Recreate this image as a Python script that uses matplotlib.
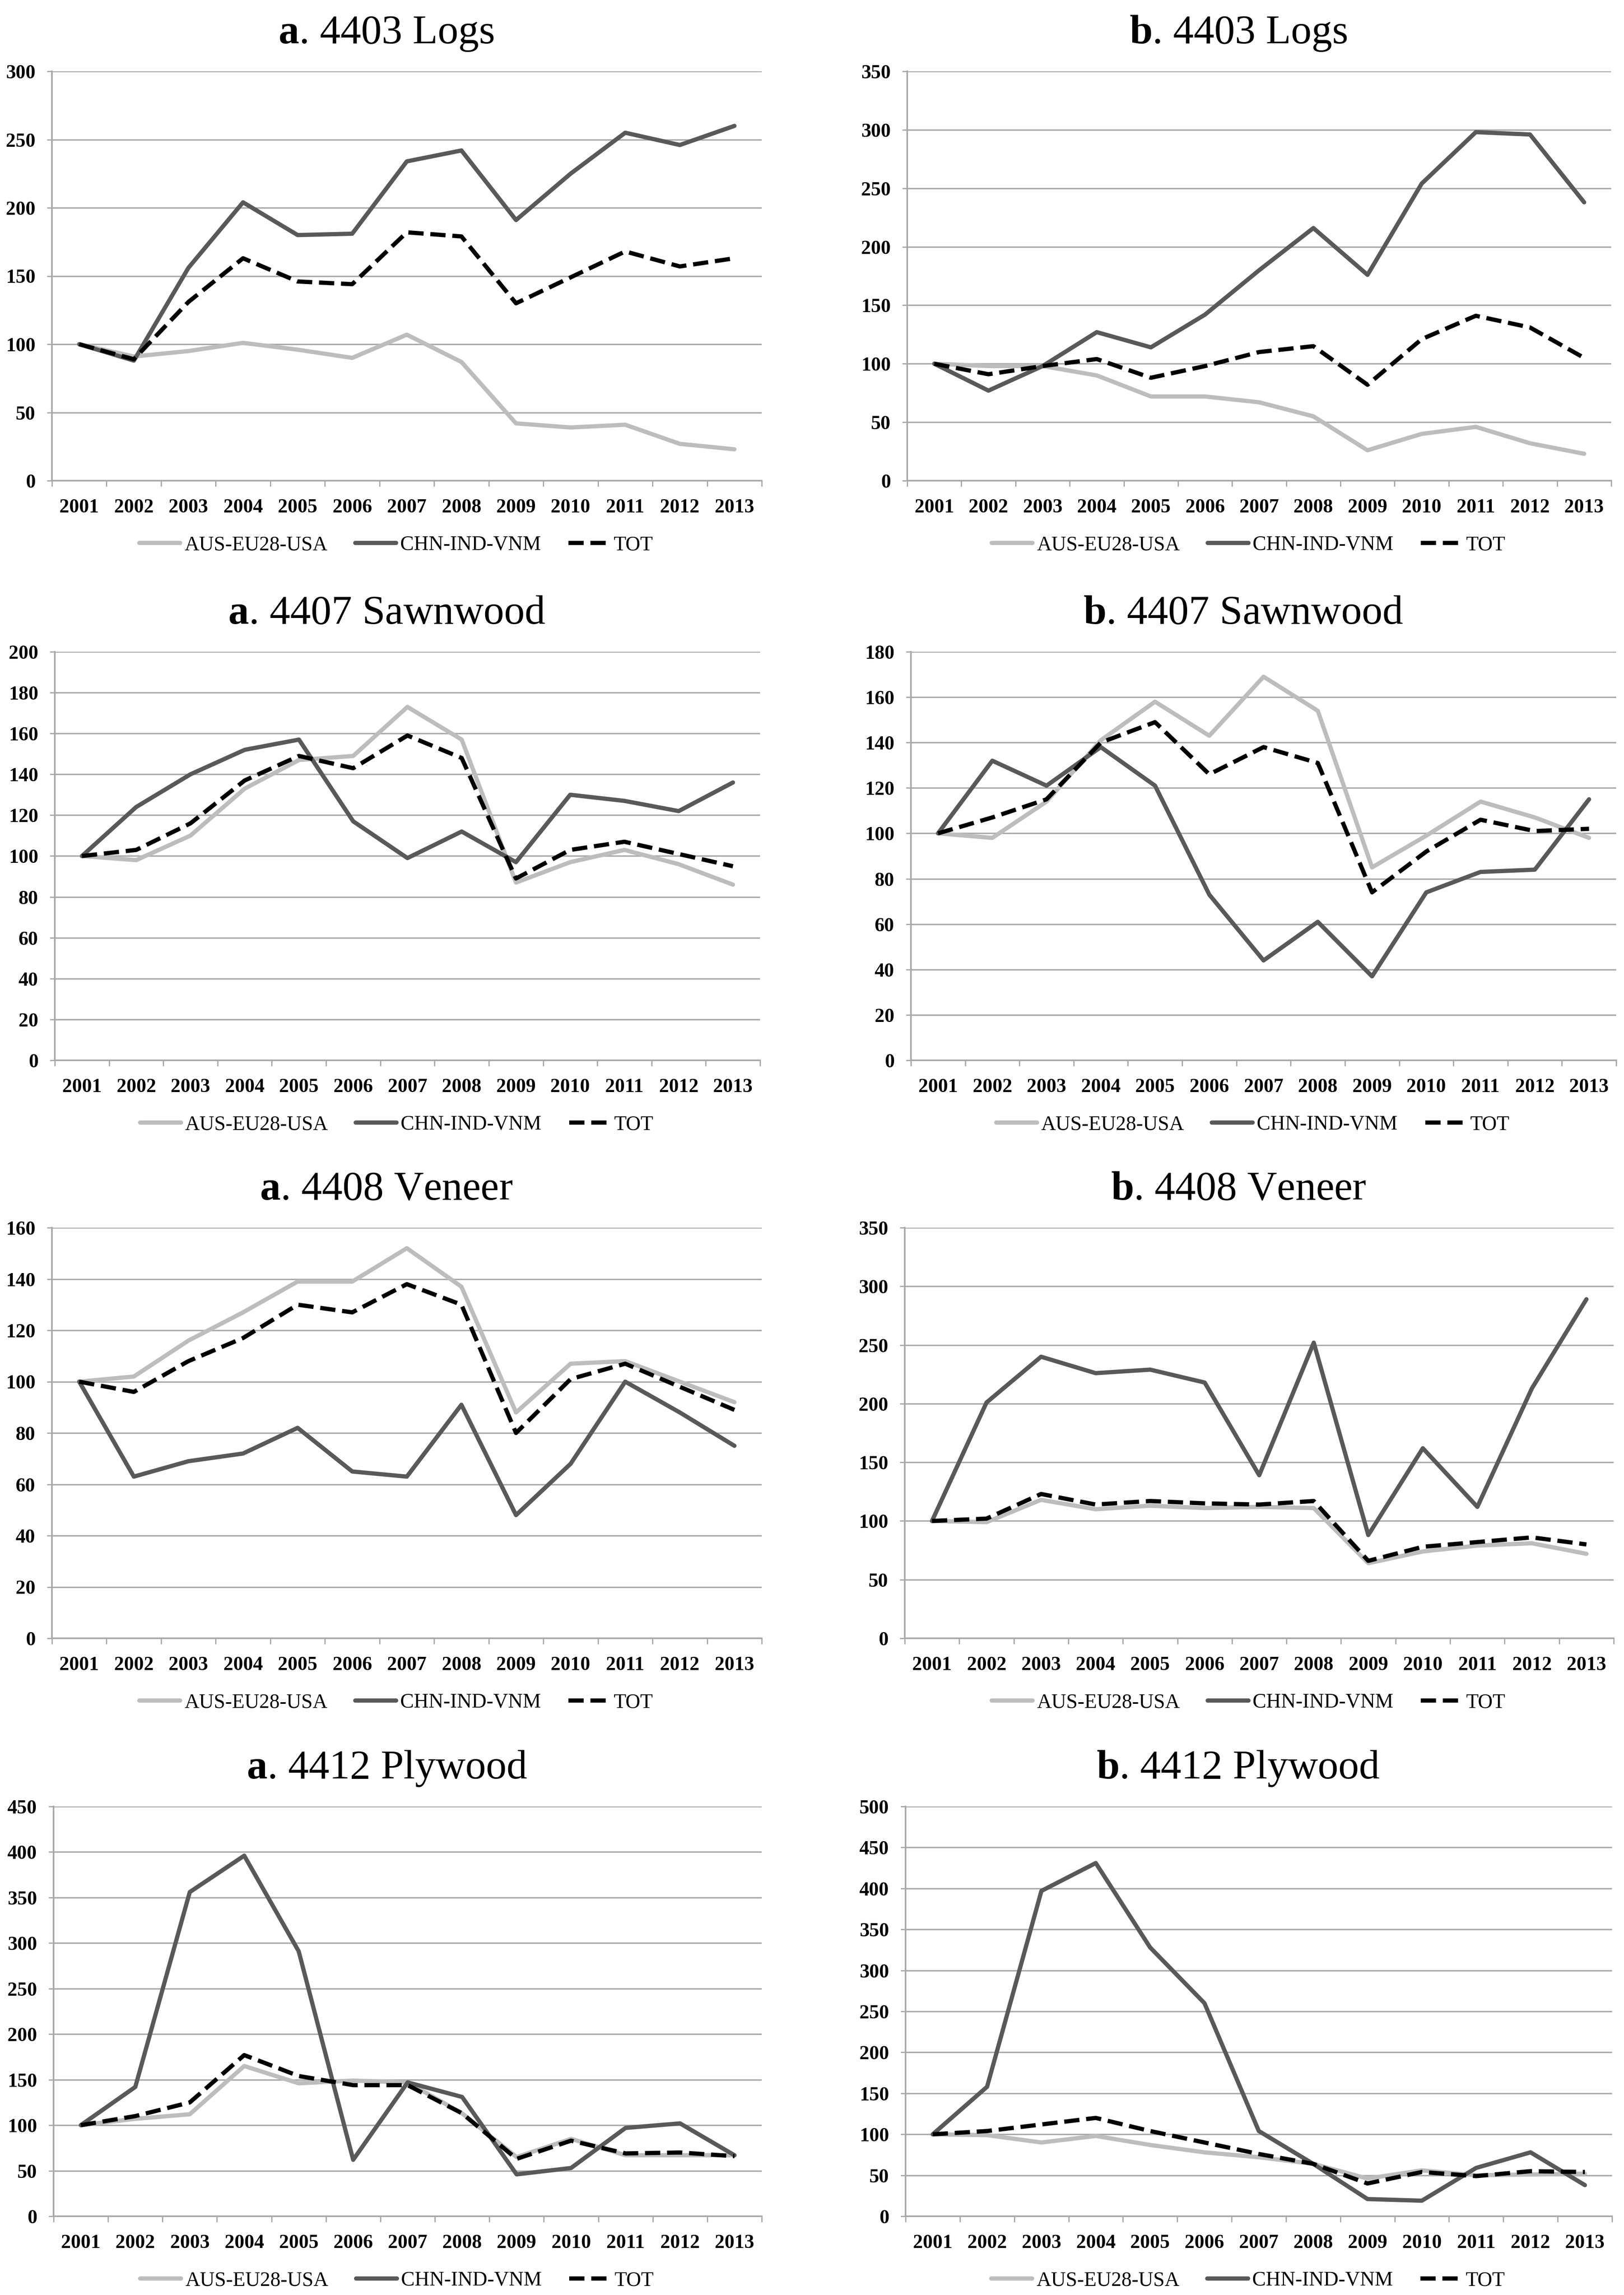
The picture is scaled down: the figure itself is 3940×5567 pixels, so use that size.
import matplotlib.pyplot as plt
import numpy as np

plt.rcParams['font.family'] = ['Liberation Serif', 'DejaVu Serif']
plt.rcParams['mathtext.fontset'] = 'custom'
plt.rcParams['mathtext.rm'] = 'Liberation Serif'
plt.rcParams['mathtext.bf'] = 'Liberation Serif:bold'

years = [str(y) for y in range(2001, 2014)]
series_names = ['AUS-EU28-USA', 'CHN-IND-VNM', 'TOT']

# 4403 Logs
logs_a_aus = [100, 91, 95, 101, 96, 90, 107, 87, 42, 39, 41, 27, 23]
logs_a_chn = [100, 88, 156, 204, 180, 181, 234, 242, 191, 225, 255, 246, 260]
logs_a_tot = [100, 89, 131, 163, 146, 144, 182, 179, 130, 149, 168, 157, 163]
logs_b_aus = [100, 98, 98, 90, 72, 72, 67, 55, 26, 40, 46, 32, 23]
logs_b_chn = [100, 77, 98, 127, 114, 142, 180, 216, 176, 254, 298, 296, 238]
logs_b_tot = [100, 91, 98, 104, 88, 98, 110, 115, 82, 121, 141, 131, 105]

# 4407 Sawnwood
sawn_a_aus = [100, 98, 110, 133, 147, 149, 173, 157, 87, 97, 103, 96, 86]
sawn_a_chn = [100, 124, 140, 152, 157, 117, 99, 112, 97, 130, 127, 122, 136]
sawn_a_tot = [100, 103, 116, 137, 149, 143, 159, 148, 89, 103, 107, 101, 95]
sawn_b_aus = [100, 98, 114, 141, 158, 143, 169, 154, 85, 99, 114, 107, 98]
sawn_b_chn = [100, 132, 121, 138, 121, 73, 44, 61, 37, 74, 83, 84, 115]
sawn_b_tot = [100, 107, 115, 140, 149, 126, 138, 131, 74, 92, 106, 101, 102]

# 4408 Veneer
ven_a_aus = [100, 102, 116, 127, 139, 139, 152, 137, 88, 107, 108, 100, 92]
ven_a_chn = [100, 63, 69, 72, 82, 65, 63, 91, 48, 68, 100, 88, 75]
ven_a_tot = [100, 96, 108, 117, 130, 127, 138, 130, 80, 101, 107, 98, 89]
ven_b_aus = [100, 99, 118, 110, 113, 111, 112, 111, 64, 74, 79, 81, 72]
ven_b_chn = [100, 201, 240, 226, 229, 218, 139, 252, 88, 162, 112, 213, 289]
ven_b_tot = [100, 102, 123, 114, 117, 115, 114, 117, 66, 78, 82, 86, 80]

# 4412 Plywood
ply_a_aus = [100, 107, 112, 165, 146, 149, 147, 113, 65, 85, 67, 67, 67]
ply_a_chn = [100, 142, 356, 396, 291, 62, 147, 131, 46, 53, 97, 102, 67]
ply_a_tot = [100, 110, 125, 177, 154, 144, 144, 113, 63, 83, 69, 70, 66]
ply_b_aus = [100, 99, 90, 98, 87, 78, 72, 64, 46, 56, 50, 51, 52]
ply_b_chn = [100, 158, 397, 431, 328, 260, 104, 64, 21, 19, 59, 78, 38]
ply_b_tot = [100, 104, 112, 120, 104, 90, 76, 64, 40, 54, 49, 55, 54]

panels = [
    ('a', '4403 Logs', logs_a_aus, logs_a_chn, logs_a_tot, 300, 50),
    ('b', '4403 Logs', logs_b_aus, logs_b_chn, logs_b_tot, 350, 50),
    ('a', '4407 Sawnwood', sawn_a_aus, sawn_a_chn, sawn_a_tot, 200, 20),
    ('b', '4407 Sawnwood', sawn_b_aus, sawn_b_chn, sawn_b_tot, 180, 20),
    ('a', '4408 Veneer', ven_a_aus, ven_a_chn, ven_a_tot, 160, 20),
    ('b', '4408 Veneer', ven_b_aus, ven_b_chn, ven_b_tot, 350, 50),
    ('a', '4412 Plywood', ply_a_aus, ply_a_chn, ply_a_tot, 450, 50),
    ('b', '4412 Plywood', ply_b_aus, ply_b_chn, ply_b_tot, 500, 50),
]

W, H = 3941, 5567
fig = plt.figure(figsize=(W / 100, H / 100), dpi=100)

# plot area boxes in pixels (left, top, right, bottom)
rows = [(173, 1166), (1581, 2572), (2978, 3974), (4382, 5376)]
cols_left = [(126, 1848), (133, 1844), (126, 1848), (130, 1848)]
cols_right = [(2201, 3909), (2210, 3921), (2195, 3915), (2197, 3911)]

light = '#bdbdbd'
dark = '#595959'
gridc = '#a8a8a8'
x = np.arange(len(years))

for i, (letter, name, aus, chn, tot, ymax, ystep) in enumerate(panels):
    r = i // 2
    top, bot = rows[r]
    left, right = (cols_left if i % 2 == 0 else cols_right)[r]
    ax = fig.add_axes([left / W, 1 - bot / H, (right - left) / W, (bot - top) / H])

    l1, = ax.plot(x, aus, color=light, lw=7.4, solid_joinstyle='round', solid_capstyle='round')
    l2, = ax.plot(x, chn, color=dark, lw=7.4, solid_joinstyle='round', solid_capstyle='round')
    l3, = ax.plot(x, tot, color='black', lw=7.4, dashes=(3.6, 1.6))

    ax.set_xlim(-0.5, 12.5)
    ax.set_ylim(0, ymax)
    ax.set_yticks(np.arange(0, ymax + 1, ystep))
    ax.set_xticks(x)
    ax.set_xticklabels(years)
    ax.set_xticks(np.arange(-0.5, 13, 1), minor=True)
    for lab in ax.get_xticklabels() + ax.get_yticklabels():
        lab.set_fontweight('bold')

    ax.tick_params(axis='y', which='major', length=9, width=2.2, color=gridc, pad=20, labelsize=34.5)
    ax.tick_params(axis='x', which='major', length=0, pad=31, labelsize=34.5)
    ax.tick_params(axis='x', which='minor', length=10, width=2.2, color=gridc)

    ax.yaxis.grid(True, color=gridc, lw=2.5)
    ax.set_axisbelow(True)
    for s in ['top', 'right']:
        ax.spines[s].set_visible(False)
    for s in ['left', 'bottom']:
        ax.spines[s].set_color(gridc)
        ax.spines[s].set_linewidth(2.8)

    tx = (left - 100 + right) / 2
    fig.text(tx / W, 1 - (top - 68) / H, r'$\mathbf{' + letter + '}$. ' + name,
             ha='center', va='baseline', fontsize=72)

    lx = (left + right) / 2 - 26
    fig.legend([l1, l2, l3], series_names, loc='center',
               bbox_to_anchor=(lx / W, 1 - (bot + 156) / H), ncol=3, frameon=False,
               fontsize=35.7, handlelength=2.0, handletextpad=0.2, columnspacing=1.35,
               borderpad=0, borderaxespad=0)

fig.savefig('out.png', dpi=100)
